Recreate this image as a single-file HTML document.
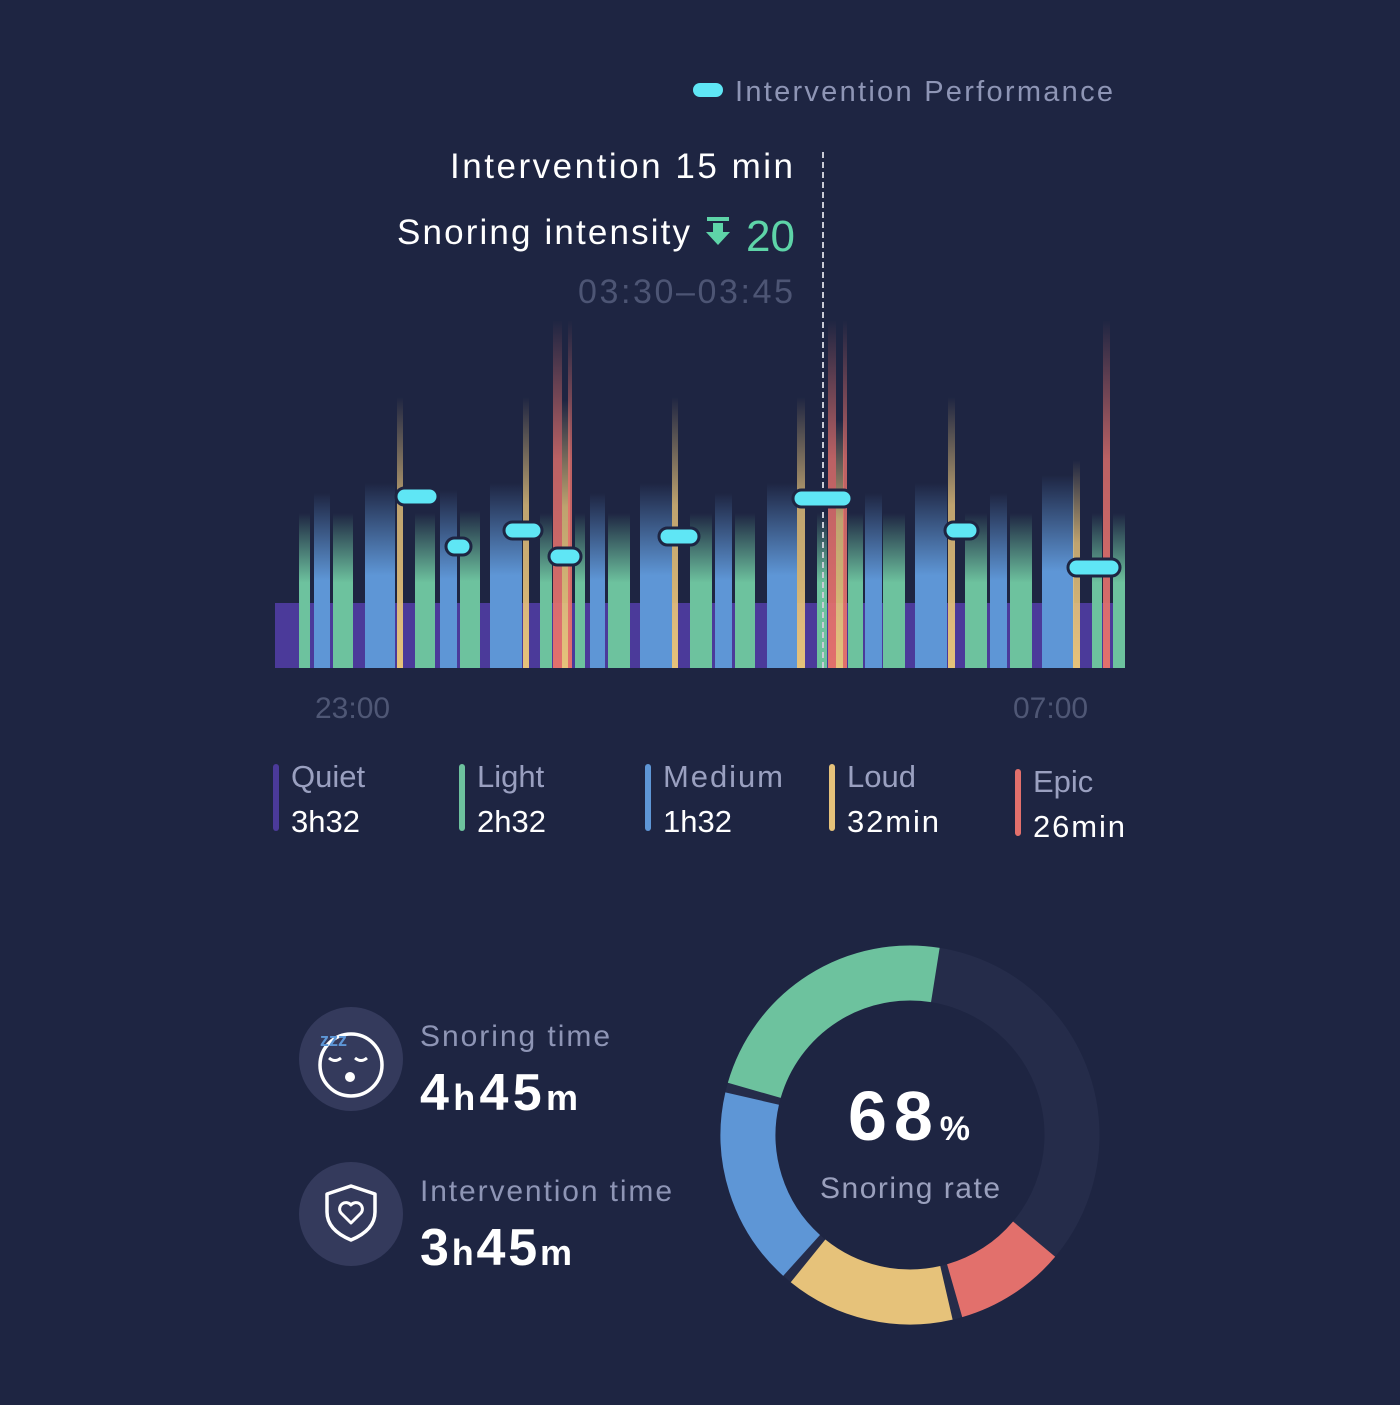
<!DOCTYPE html>
<html><head><meta charset="utf-8"><style>
body{margin:0;background:#1e2542;width:1400px;height:1400px;overflow:hidden;font-family:"Liberation Sans",sans-serif}
</style></head><body>
<svg width="1400" height="1400" viewBox="0 0 1400 1400" xmlns="http://www.w3.org/2000/svg" font-family="Liberation Sans, sans-serif">
<defs>
<linearGradient id="fb" x1="0" y1="0" x2="0" y2="1"><stop offset="0" stop-color="#5e96d6" stop-opacity="0"/><stop offset="0.5" stop-color="#5e96d6"/><stop offset="1" stop-color="#5e96d6"/></linearGradient>
<linearGradient id="fg" x1="0" y1="0" x2="0" y2="1"><stop offset="0" stop-color="#6dc29e" stop-opacity="0"/><stop offset="0.45" stop-color="#6dc29e"/><stop offset="1" stop-color="#6dc29e"/></linearGradient>
<linearGradient id="fy" x1="0" y1="0" x2="0" y2="1"><stop offset="0" stop-color="#e6c27a" stop-opacity="0"/><stop offset="0.4" stop-color="#e6c27a" stop-opacity="0.8"/><stop offset="1" stop-color="#e6c27a"/></linearGradient>
<linearGradient id="fr" x1="0" y1="0" x2="0" y2="1"><stop offset="0" stop-color="#e2706c" stop-opacity="0"/><stop offset="0.4" stop-color="#e2706c" stop-opacity="0.8"/><stop offset="1" stop-color="#e2706c"/></linearGradient>
</defs>
<rect x="693" y="83" width="30" height="14" rx="7" fill="#5fe6f5"/>
<text x="735" y="101" font-size="29" fill="#8e95b5" textLength="378">Intervention Performance</text>
<text x="450" y="178" font-size="35" fill="#fff" textLength="343">Intervention  15 min</text>
<text x="397" y="244" font-size="35" fill="#fff" textLength="293">Snoring intensity</text>
<path d="M707 217h22v4h-22zM713 223h10v9h7l-12 13-12-13h7z" fill="#5ed4a8"/>
<text x="795" y="251" font-size="44" fill="#5ed4a8" text-anchor="end">20</text>
<text x="578" y="303" font-size="34" fill="#4d5574" textLength="215">03:30–03:45</text>
<rect x="275" y="603" width="850" height="65" fill="#4b3a9a"/>
<g>
<rect x="299" y="513" width="11" height="155" fill="url(#fg)"/>
<rect x="314" y="493" width="16" height="175" fill="url(#fb)"/>
<rect x="333" y="513" width="20" height="155" fill="url(#fg)"/>
<rect x="365" y="483" width="30" height="185" fill="url(#fb)"/>
<rect x="397" y="397" width="6" height="271" fill="url(#fy)"/>
<rect x="415" y="513" width="20" height="155" fill="url(#fg)"/>
<rect x="440" y="490" width="17" height="178" fill="url(#fb)"/>
<rect x="460" y="510" width="20" height="158" fill="url(#fg)"/>
<rect x="490" y="483" width="32" height="185" fill="url(#fb)"/>
<rect x="523" y="397" width="6" height="271" fill="url(#fy)"/>
<rect x="540" y="513" width="12" height="155" fill="url(#fg)"/>
<rect x="553" y="320" width="9" height="348" fill="url(#fr)"/>
<rect x="562" y="400" width="8" height="268" fill="url(#fy)"/>
<rect x="568" y="320" width="4" height="348" fill="url(#fr)"/>
<rect x="575" y="513" width="10" height="155" fill="url(#fg)"/>
<rect x="590" y="493" width="15" height="175" fill="url(#fb)"/>
<rect x="608" y="513" width="22" height="155" fill="url(#fg)"/>
<rect x="640" y="483" width="32" height="185" fill="url(#fb)"/>
<rect x="672" y="397" width="6" height="271" fill="url(#fy)"/>
<rect x="690" y="513" width="22" height="155" fill="url(#fg)"/>
<rect x="715" y="493" width="17" height="175" fill="url(#fb)"/>
<rect x="735" y="513" width="20" height="155" fill="url(#fg)"/>
<rect x="767" y="483" width="30" height="185" fill="url(#fb)"/>
<rect x="797" y="397" width="8" height="271" fill="url(#fy)"/>
<rect x="817" y="513" width="10" height="155" fill="url(#fg)"/>
<rect x="828" y="320" width="8" height="348" fill="url(#fr)"/>
<rect x="836" y="420" width="8" height="248" fill="url(#fy)"/>
<rect x="843" y="320" width="4" height="348" fill="url(#fr)"/>
<rect x="848" y="513" width="15" height="155" fill="url(#fg)"/>
<rect x="865" y="493" width="17" height="175" fill="url(#fb)"/>
<rect x="883" y="513" width="22" height="155" fill="url(#fg)"/>
<rect x="915" y="483" width="32" height="185" fill="url(#fb)"/>
<rect x="948" y="397" width="7" height="271" fill="url(#fy)"/>
<rect x="965" y="513" width="22" height="155" fill="url(#fg)"/>
<rect x="990" y="493" width="17" height="175" fill="url(#fb)"/>
<rect x="1010" y="513" width="22" height="155" fill="url(#fg)"/>
<rect x="1042" y="475" width="32" height="193" fill="url(#fb)"/>
<rect x="1073" y="460" width="7" height="208" fill="url(#fy)"/>
<rect x="1092" y="513" width="10" height="155" fill="url(#fg)"/>
<rect x="1103" y="320" width="7" height="348" fill="url(#fr)"/>
<rect x="1113" y="513" width="12" height="155" fill="url(#fg)"/>
</g>
<line x1="823" y1="152" x2="823" y2="668" stroke="#c9cbd6" stroke-width="2" stroke-dasharray="6 4"/>
<g fill="#5fe6f5" stroke="#1e2542" stroke-width="3">
<rect x="396" y="488" width="42" height="17" rx="8.5"/>
<rect x="446" y="538" width="25" height="17" rx="8.5"/>
<rect x="504" y="522" width="38" height="17" rx="8.5"/>
<rect x="549" y="548" width="32" height="17" rx="8.5"/>
<rect x="659" y="528" width="40" height="17" rx="8.5"/>
<rect x="793" y="490" width="59" height="17" rx="8.5"/>
<rect x="945" y="522" width="33" height="17" rx="8.5"/>
<rect x="1068" y="559" width="52" height="17" rx="8.5"/>
</g>
<text x="315" y="718" font-size="30" fill="#4f5775">23:00</text>
<text x="1013" y="718" font-size="30" fill="#4f5775">07:00</text>
<g font-size="31">
<rect x="273" y="764" width="6" height="67" rx="3" fill="#4b3a9a"/>
<text x="291" y="787" fill="#9aa0c0">Quiet</text><text x="291" y="832" fill="#fff">3h32</text>
<rect x="459" y="764" width="6" height="67" rx="3" fill="#6dc29e"/>
<text x="477" y="787" fill="#9aa0c0">Light</text><text x="477" y="832" fill="#fff">2h32</text>
<rect x="645" y="764" width="6" height="67" rx="3" fill="#5e96d6"/>
<text x="663" y="787" fill="#9aa0c0" textLength="120">Medium</text><text x="663" y="832" fill="#fff">1h32</text>
<rect x="829" y="764" width="6" height="67" rx="3" fill="#e6c27a"/>
<text x="847" y="787" fill="#9aa0c0">Loud</text><text x="847" y="832" fill="#fff" textLength="92">32min</text>
<rect x="1015" y="769" width="6" height="67" rx="3" fill="#e2706c"/>
<text x="1033" y="792" fill="#9aa0c0">Epic</text><text x="1033" y="837" fill="#fff" textLength="92">26min</text>
</g>
<circle cx="351" cy="1059" r="52" fill="#343a5c"/>
<circle cx="351" cy="1065" r="31" fill="none" stroke="#fff" stroke-width="3.5"/>
<path d="M329 1058q6 5 12 0M355 1058q6 5 12 0" fill="none" stroke="#fff" stroke-width="3"/>
<circle cx="350" cy="1077" r="5" fill="#fff"/>
<text x="320" y="1046" font-size="18" font-weight="bold" fill="#5e96d6">zzz</text>
<circle cx="351" cy="1214" r="52" fill="#343a5c"/>
<path d="M351 1186l-24 8v18q0 18 24 28q24-10 24-28v-18z" fill="none" stroke="#fff" stroke-width="3.5" stroke-linejoin="round"/>
<path d="M351 1223l-10-10a6 6 0 0 1 10-8a6 6 0 0 1 10 8z" fill="none" stroke="#fff" stroke-width="3" stroke-linejoin="round"/>
<text x="420" y="1046" font-size="30" fill="#8e95b5" textLength="190">Snoring time</text>
<text x="420" y="1110" font-size="52" font-weight="bold" fill="#fff" textLength="158">4<tspan font-size="36">h</tspan>45<tspan font-size="36">m</tspan></text>
<text x="420" y="1201" font-size="30" fill="#8e95b5" textLength="252">Intervention time</text>
<text x="420" y="1265" font-size="52" font-weight="bold" fill="#fff" textLength="152">3<tspan font-size="36">h</tspan>45<tspan font-size="36">m</tspan></text>
<circle cx="910" cy="1135" r="162" fill="none" stroke="#252c4a" stroke-width="55"/>
<g fill="none" stroke-width="55">
<path id="g" stroke="#6dc29e"/><path id="b" stroke="#5e96d6"/><path id="y" stroke="#e6c27a"/><path id="r" stroke="#e2706c"/>
</g>
<script>
function arc(a1,a2){var r=162,cx=910,cy=1135;function p(a){a=a*Math.PI/180;return [cx+r*Math.sin(a),cy-r*Math.cos(a)];}
var s=p(a1),e=p(a2),l=((a2-a1+360)%360)>180?1:0;return "M"+s[0]+" "+s[1]+"A"+r+" "+r+" 0 "+l+" 1 "+e[0]+" "+e[1];}
document.getElementById("g").setAttribute("d",arc(286,369));
document.getElementById("b").setAttribute("d",arc(222,283));
document.getElementById("y").setAttribute("d",arc(167,219));
document.getElementById("r").setAttribute("d",arc(130,164));
</script>
<text x="848" y="1140" font-size="70" font-weight="bold" fill="#fff" textLength="122">68<tspan font-size="34">%</tspan></text>
<text x="820" y="1198" font-size="30" fill="#9aa0bd" textLength="180">Snoring rate</text>
</svg>
</body></html>
